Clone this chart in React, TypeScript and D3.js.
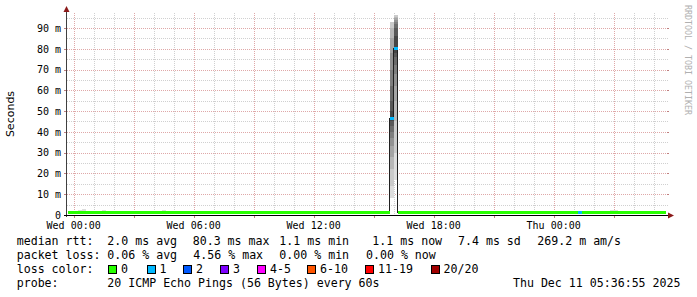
import React from "react";
import * as d3 from "d3";

// ---------- data ----------
const startTime = new Date(2025, 11, 9, 23, 40);
const endTime = new Date(2025, 11, 11, 5, 40);
const firstColumn = new Date(2025, 11, 9, 23, 36);
const lastColumn = new Date(2025, 11, 11, 5, 24);
const stepMinutes = 12;

const yTickValues = [0, 10, 20, 30, 40, 50, 60, 70, 80, 90];
const yMax = 97.2;
const xLabelTimes = ["2025-12-10T00:00", "2025-12-10T06:00", "2025-12-10T12:00", "2025-12-10T18:00", "2025-12-11T00:00"];

const baselineMedian = 1.1;
const baselineLow = 0.9;
const baselineHigh = 1.6;

const bumpTimes = ["2025-12-10T00:12", "2025-12-10T00:24", "2025-12-10T01:24", "2025-12-10T04:24", "2025-12-11T02:48", "2025-12-11T03:00"];
const bumpMax = [2.6, 2.8, 2.5, 2.5, 2.4, 2.4];

const lossTimes = ["2025-12-11T01:12"];
const lossMedians = [1.3];
const lossCounts = [1];

const spikeTimes = ["2025-12-10T15:48", "2025-12-10T16:00"];
const spikeMedians = [46.5, 80.3];
const spikeLoss = [1, 1];
const spikePingsA = [8, 14, 22, 28, 33, 37, 40, 43, 45, 46.5, 47, 50, 55, 62, 70, 78, 85, 90, 93, 93];
const spikePingsB = [17, 30, 45, 55, 62, 68, 72, 76, 78, 80, 80.5, 86, 90, 92, 93, 94, 95, 95.5, 96, 96];

const lossLabels = ["0", "1", "2", "3", "4-5", "6-10", "11-19", "20/20"];
const lossColors = ["#26ff00", "#00b8ff", "#0059ff", "#7e00ff", "#ff00ff", "#ff5500", "#ff0000", "#a10000"];
const lossBoxX = [108, 146.5, 183, 220, 257, 307, 365, 430.5];

const rttLabels = ["2.0 ms avg", "80.3 ms max", "1.1 ms min", "1.1 ms now", "7.4 ms sd", "269.2 m am/s"];
const rttX = [107.3, 192.7, 279.3, 372.3, 458, 537.3];
const lossStatLabels = ["0.06 % avg", "4.56 % max", "0.00 % min", "0.00 % now"];
const lossStatX = [107.3, 193.3, 279.3, 366];

const W = 697, H = 297;
const X0 = 67, X1 = 667, Y0 = 215, Y1 = 13;
const MONO = "'DejaVu Sans Mono', monospace";

function lossColorFor(n: number) {
  if (n <= 0) return lossColors[0];
  if (n === 1) return lossColors[1];
  if (n === 2) return lossColors[2];
  if (n === 3) return lossColors[3];
  if (n <= 5) return lossColors[4];
  if (n <= 10) return lossColors[5];
  if (n <= 19) return lossColors[6];
  return lossColors[7];
}

export default function App() {
  const x = d3.scaleTime().domain([startTime, endTime]).range([X0, X1]);
  const y = d3.scaleLinear().domain([0, yMax]).range([Y0, Y1]);

  type Col = { t: Date; median: number; loss: number; pings: number[] };
  const cols: Col[] = [];
  const times = d3.timeMinute.every(stepMinutes)!.range(firstColumn, d3.timeMinute.offset(lastColumn, 1));
  for (const t of times) {
    const key = t.getTime();
    const c: Col = { t, median: baselineMedian, loss: 0, pings: [baselineLow, baselineHigh] };
    const bi = bumpTimes.findIndex((s) => new Date(s).getTime() === key);
    if (bi >= 0) c.pings = [1.0, bumpMax[bi]];
    const li = lossTimes.findIndex((s) => new Date(s).getTime() === key);
    if (li >= 0) { c.median = lossMedians[li]; c.loss = lossCounts[li]; }
    const si = spikeTimes.findIndex((s) => new Date(s).getTime() === key);
    if (si >= 0) {
      c.median = spikeMedians[si];
      c.loss = spikeLoss[si];
      c.pings = si === 0 ? spikePingsA : spikePingsB;
    }
    cols.push(c);
  }

  const cx = (t: Date) => Math.max(X0 + 0.5, x(t));
  const cx2 = (t: Date) => Math.min(X1, x(d3.timeMinute.offset(t, stepMinutes)));

  const smoke: React.ReactNode[] = [];
  cols.forEach((c, ci) => {
    const x1 = cx(c.t), x2 = cx2(c.t);
    const p = c.pings;
    if (p.length === 2) {
      smoke.push(<rect key={`s${ci}`} x={x1} y={y(p[1])} width={x2 - x1} height={y(p[0]) - y(p[1])} fill="#dddddd" />);
    } else {
      const half = p.length / 2;
      for (let i = 0; i < half; i++) {
        const g = Math.floor((190 / half) * (half - (i + 1))) + 50;
        const lo = p[i], hi = p[p.length - 1 - i];
        smoke.push(
          <rect key={`s${ci}-${i}`} x={x1} y={y(hi)} width={x2 - x1} height={Math.max(0.5, y(lo) - y(hi))} fill={`rgb(${g},${g},${g})`} />
        );
      }
    }
  });

  const linePts: [number, number][] = cols.map((c) => [cx(c.t), y(c.median)]);
  linePts.push([cx2(cols[cols.length - 1].t), y(cols[cols.length - 1].median)]);
  const medianLine = d3.line().curve(d3.curveStepAfter)(linePts) || "";

  const bands = cols.map((c, ci) => {
    const x1 = cx(c.t), x2 = cx2(c.t);
    return <rect key={`b${ci}`} x={x1} y={y(c.median) - 1.5} width={x2 - x1} height={3} fill={lossColorFor(c.loss)} />;
  });

  const minorH = d3.range(5, yMax, 5).filter((v) => v % 10 !== 0);
  const majorH = d3.range(10, yMax, 10);
  const hours = d3.timeHour.range(startTime, endTime);
  const minorV = hours.filter((h) => h.getHours() % 3 !== 0);
  const majorV = hours.filter((h) => h.getHours() % 3 === 0);
  const gridGrey = "#d0d0d0";
  const gridRed = "#dfa8a8";
  const fmt = d3.timeFormat("%a %H:%M");

  const legendY = [244.5, 258.5, 272.5, 286.5];

  return (
    <svg width={W} height={H} style={{ position: "absolute", left: 0, top: 0, background: "#fff" }} fontFamily={MONO}>
      <rect x={0} y={0} width={W} height={H} fill="#ffffff" />
      <g shapeRendering="crispEdges">
        {minorH.map((v) => (
          <line key={`mh${v}`} x1={X0} x2={X1 + 1} y1={Math.round(y(v)) + 0.5} y2={Math.round(y(v)) + 0.5} stroke={gridGrey} strokeDasharray="1,1" />
        ))}
        {minorV.map((h) => (
          <line key={`mv${h.getTime()}`} x1={Math.round(x(h)) + 0.5} x2={Math.round(x(h)) + 0.5} y1={Y1} y2={Y0} stroke={gridGrey} strokeDasharray="1,1" />
        ))}
        {majorH.map((v) => (
          <g key={`Mh${v}`}>
            <line x1={X0} x2={X1 + 1} y1={Math.round(y(v)) + 0.5} y2={Math.round(y(v)) + 0.5} stroke={gridRed} strokeDasharray="1,1" />
            <line x1={X0 - 3} x2={X0} y1={Math.round(y(v)) + 0.5} y2={Math.round(y(v)) + 0.5} stroke="#c08080" />
            <line x1={X1} x2={X1 + 2} y1={Math.round(y(v)) + 0.5} y2={Math.round(y(v)) + 0.5} stroke="#c08080" />
          </g>
        ))}
        {majorV.map((h) => (
          <g key={`Mv${h.getTime()}`}>
            <line x1={Math.round(x(h)) + 0.5} x2={Math.round(x(h)) + 0.5} y1={Y1} y2={Y0} stroke={gridRed} strokeDasharray="1,1" />
            <line x1={Math.round(x(h)) + 0.5} x2={Math.round(x(h)) + 0.5} y1={Y0} y2={Y0 + 3} stroke="#c08080" />
          </g>
        ))}
      </g>
      <g shapeRendering="crispEdges">{smoke}</g>
      <path d={medianLine} fill="none" stroke="#202020" strokeWidth={1} shapeRendering="crispEdges" />
      <g shapeRendering="crispEdges">{bands}</g>
      <line x1={X0 - 0.5} x2={X0 - 0.5} y1={Y0 + 2} y2={Y1 - 4} stroke="#404040" shapeRendering="crispEdges" />
      <line x1={X0 - 3} x2={X1 + 2} y1={Y0 + 0.5} y2={Y0 + 0.5} stroke="#000000" shapeRendering="crispEdges" />
      <path d={`M${X0 - 3.5},${Y1 - 1} L${X0 - 0.5},${Y1 - 7} L${X0 + 2.5},${Y1 - 1} Z`} fill="#8b1a1a" />
      <path d={`M${X1 + 1},${Y0 - 2.5} L${X1 + 7},${Y0 + 0.5} L${X1 + 1},${Y0 + 3.5} Z`} fill="#8b1a1a" />
      {yTickValues.map((v) => (
        <text key={`yl${v}`} x={61} y={y(v) + 3.8} textAnchor="end" fontSize={10} fill="#000">
          {v === 0 ? "0" : `${v} m`}
        </text>
      ))}
      {xLabelTimes.map((s) => (
        <text key={s} x={x(new Date(s))} y={228.5} textAnchor="middle" fontSize={10} fill="#000">
          {fmt(new Date(s))}
        </text>
      ))}
      <text transform="translate(13.5,114) rotate(-90)" textAnchor="middle" fontFamily="'DejaVu Sans', sans-serif" fontSize={11} fill="#000">
        Seconds
      </text>
      <text transform="translate(685,5) rotate(90)" fontSize={8.3} fill="#b0b0b0">
        RRDTOOL / TOBI OETIKER
      </text>
      <g fontSize={11.6} fill="#000">
        <text x={16.7} y={legendY[0]}>median rtt:</text>
        {rttLabels.map((s, i) => (
          <text key={`r${i}`} x={rttX[i]} y={legendY[0]}>{s}</text>
        ))}
        <text x={16.7} y={legendY[1]}>packet loss:</text>
        {lossStatLabels.map((s, i) => (
          <text key={`l${i}`} x={lossStatX[i]} y={legendY[1]}>{s}</text>
        ))}
        <text x={16.7} y={legendY[2]}>loss color:</text>
        {lossLabels.map((s, i) => (
          <g key={`lc${i}`}>
            <rect x={lossBoxX[i] + 0.5} y={265.5} width={8} height={8} fill={lossColors[i]} stroke="#000" strokeWidth={1} shapeRendering="crispEdges" />
            <text x={lossBoxX[i] + 13} y={legendY[2]}>{s}</text>
          </g>
        ))}
        <text x={16.7} y={legendY[3]}>probe:</text>
        <text x={107.3} y={legendY[3]}>20 ICMP Echo Pings (56 Bytes) every 60s</text>
        <text x={680.5} y={legendY[3]} textAnchor="end">Thu Dec 11 05:36:55 2025</text>
      </g>
    </svg>
  );
}
